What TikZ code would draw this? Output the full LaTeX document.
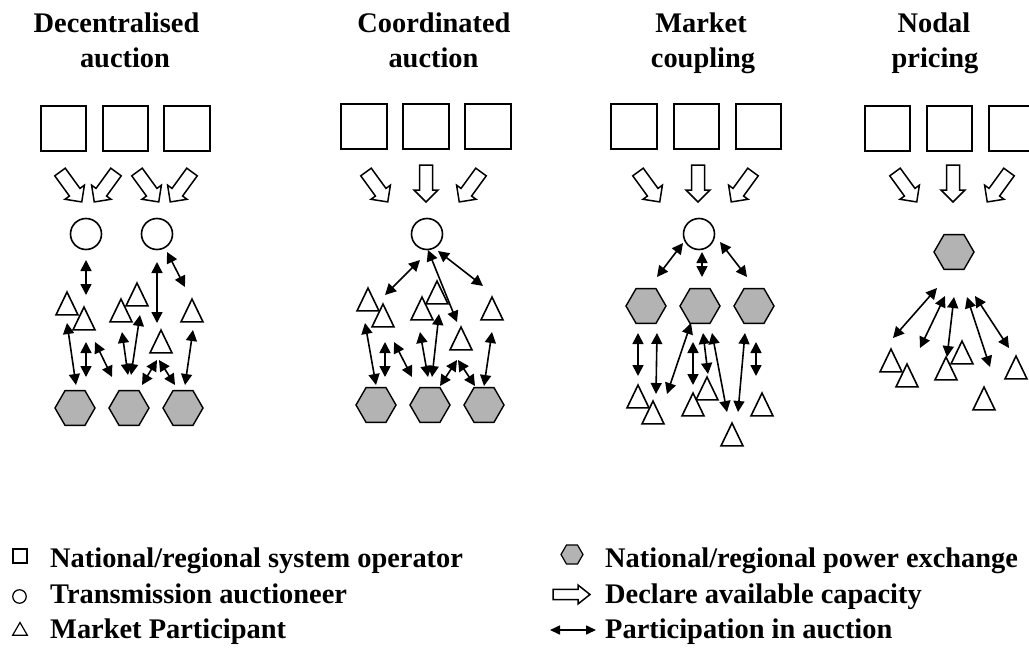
\documentclass[tikz,border=0pt]{standalone}
\usepackage{fontspec}
\setmainfont{Liberation Serif}
\usetikzlibrary{arrows.meta,shapes.geometric}
\definecolor{pxfill}{RGB}{179,179,179}
\tikzset{
  sysop/.style={draw, line width=1.7pt, fill=white, minimum size=45.5pt, inner sep=0pt},
  auct/.style={circle, draw, line width=1.6pt, fill=white, minimum size=31pt, inner sep=0pt},
  pwx/.style={regular polygon, regular polygon sides=6, draw, line width=1.4pt, fill=pxfill, minimum size=40pt, inner sep=0pt},
  mp/.style={regular polygon, regular polygon sides=3, draw, line width=1.6pt, fill=white, minimum size=25.4pt, inner sep=0pt, yscale=1.2},
  part/.style={{Triangle[length=11pt,width=11pt]}-{Triangle[length=11pt,width=11pt]}, line width=1.6pt},
  ttl/.style={font=\fontsize{28.4}{32}\selectfont\bfseries, anchor=base, inner sep=0pt},
  legtext/.style={font=\fontsize{28.4}{32}\selectfont\bfseries, anchor=base west, inner sep=0pt},
  decl/.pic={\draw[line width=1.5pt, fill=white, line join=miter]
    (-6.5,0) -- (-6.5,25) -- (-12,25) -- (0,37) -- (12,25) -- (6.5,25) -- (6.5,0) -- cycle;}
}
\begin{document}
\begin{tikzpicture}[x=1pt,y=-1pt]
\useasboundingbox (0,0) rectangle (1029,648);

% ---------- titles ----------
\node[ttl] (t1a) at (116.5,32) {Decentralised};
\node[ttl] (t1b) at (125,67) {auction};
\node[ttl] (t2a) at (434,32) {Coordinated};
\node[ttl] (t2b) at (433.5,67) {auction};
\node[ttl] (t3a) at (701,32) {Market};
\node[ttl] (t3b) at (703,67) {coupling};
\node[ttl] (t4a) at (934,32) {Nodal};
\node[ttl] (t4b) at (935,67) {pricing};

% ---------- decentralised auction ----------
\node[sysop] (s11) at (63.5,128.5) {};
\node[sysop] (s12) at (125.5,128.5) {};
\node[sysop] (s13) at (187,128.5) {};
\pic[rotate=36] at (60,172) {decl};
\pic[rotate=-36] at (116,172) {decl};
\pic[rotate=36] at (137,172) {decl};
\pic[rotate=-36] at (192,172) {decl};
\node[auct] (c11) at (86,234) {};
\node[auct] (c12) at (157,234) {};
\node[mp] (m11) at (67,307.3) {};
\node[mp] (m12) at (84,322.3) {};
\node[mp] (m14) at (121,314.3) {};
\node[mp] (m13) at (137,298.3) {};
\node[mp] (m15) at (192,314.3) {};
\node[mp] (m16) at (161,345.3) {};
\node[pwx] (h11) at (75,408) {};
\node[pwx] (h12) at (129,408) {};
\node[pwx] (h13) at (183,408) {};
\draw[part] (86,260) coordinate (p1a) -- (86,295) coordinate (p1b);
\draw[part] (157,262) coordinate (p2a) -- (157,323) coordinate (p2b);
\draw[part] (167,252) coordinate (p3a) -- (185,287) coordinate (p3b);
\draw[part] (67,323) coordinate (p4a) -- (76,385) coordinate (p4b);
\draw[part] (86,342) coordinate (p5a) -- (86,377) coordinate (p5b);
\draw[part] (95,342) coordinate (p6a) -- (112,377) coordinate (p6b);
\draw[part] (122,332) coordinate (p7a) -- (128,375) coordinate (p7b);
\draw[part] (140,315) coordinate (p8a) -- (131,375) coordinate (p8b);
\draw[part] (157,360) coordinate (p9a) -- (142,385) coordinate (p9b);
\draw[part] (159,360) coordinate (p10a) -- (175,385) coordinate (p10b);
\draw[part] (193,330) coordinate (p11a) -- (185,385) coordinate (p11b);

% ---------- coordinated auction ----------
\node[sysop] (s21) at (364,126.5) {};
\node[sysop] (s22) at (426,126.5) {};
\node[sysop] (s23) at (488,126.5) {};
\pic[rotate=36] at (366,172) {decl};
\pic at (426,165) {decl};
\pic[rotate=-36] at (481,172) {decl};
\node[auct] (c21) at (427,234) {};
\node[mp] (m21) at (368,303.3) {};
\node[mp] (m22) at (383,319.3) {};
\node[mp] (m24) at (422,312.3) {};
\node[mp] (m23) at (437,296.3) {};
\node[mp] (m25) at (492,312.3) {};
\node[mp] (m26) at (461,342.3) {};
\node[pwx] (h21) at (376,405) {};
\node[pwx] (h22) at (430,405) {};
\node[pwx] (h23) at (484,405) {};
\draw[part] (420,260) coordinate (q1a) -- (385,295) coordinate (q1b);
\draw[part] (428,250) coordinate (q2a) -- (457,322) coordinate (q2b);
\draw[part] (438,251) coordinate (q3a) -- (483,286) coordinate (q3b);
\draw[part] (365,323) coordinate (q4a) -- (376,385) coordinate (q4b);
\draw[part] (385,342) coordinate (q5a) -- (385,377) coordinate (q5b);
\draw[part] (394,342) coordinate (q6a) -- (412,377) coordinate (q6b);
\draw[part] (420,332) coordinate (q7a) -- (428,377) coordinate (q7b);
\draw[part] (439,314) coordinate (q8a) -- (432,377) coordinate (q8b);
\draw[part] (457,360) coordinate (q9a) -- (440,386) coordinate (q9b);
\draw[part] (458,360) coordinate (q10a) -- (475,386) coordinate (q10b);
\draw[part] (492,332) coordinate (q11a) -- (484,386) coordinate (q11b);

% ---------- market coupling ----------
\node[sysop] (s31) at (634,126.5) {};
\node[sysop] (s32) at (696.5,126.5) {};
\node[sysop] (s33) at (758.5,126.5) {};
\pic[rotate=36] at (638,172) {decl};
\pic at (698,165) {decl};
\pic[rotate=-36] at (753,172) {decl};
\node[auct] (c31) at (699,234) {};
\node[pwx] (h31) at (646,306) {};
\node[pwx] (h32) at (700,306) {};
\node[pwx] (h33) at (754,306) {};
\node[mp] (m31) at (638,400.3) {};
\node[mp] (m32) at (653,416.3) {};
\node[mp] (m34) at (707,392.3) {};
\node[mp] (m33) at (693,408.3) {};
\node[mp] (m35) at (762,408.3) {};
\node[mp] (m36) at (732,438.3) {};
\draw[part] (683,243) coordinate (r1a) -- (657,277) coordinate (r1b);
\draw[part] (702,252) coordinate (r2a) -- (702,277) coordinate (r2b);
\draw[part] (720,242) coordinate (r3a) -- (747,277) coordinate (r3b);
\draw[part] (638,333) coordinate (r4a) -- (638,376) coordinate (r4b);
\draw[part] (657,333) coordinate (r5a) -- (656,394) coordinate (r5b);
\draw[part] (691,323) coordinate (r6a) -- (667,394) coordinate (r6b);
\draw[part] (693,342) coordinate (r7a) -- (693,385) coordinate (r7b);
\draw[part] (703,333) coordinate (r8a) -- (708,374) coordinate (r8b);
\draw[part] (712,333) coordinate (r9a) -- (727,412) coordinate (r9b);
\draw[part] (745,333) coordinate (r10a) -- (738,412) coordinate (r10b);
\draw[part] (756,342) coordinate (r11a) -- (756,376) coordinate (r11b);

% ---------- nodal pricing ----------
\node[sysop] (s41) at (887.5,128.5) {};
\node[sysop] (s42) at (949.5,128.5) {};
\node[sysop] (s43) at (1011.5,128.5) {};
\pic[rotate=36] at (895,172) {decl};
\pic at (953,165) {decl};
\pic[rotate=-36] at (1009,172) {decl};
\node[pwx] (h41) at (954,252) {};
\node[mp] (m41) at (891,364.3) {};
\node[mp] (m42) at (907,379.3) {};
\node[mp] (m44) at (962,356.3) {};
\node[mp] (m43) at (946,372.3) {};
\node[mp] (m45) at (1016,371.3) {};
\node[mp] (m46) at (984,402.3) {};
\draw[part] (937,288) coordinate (u1a) -- (893,338) coordinate (u1b);
\draw[part] (945,296) coordinate (u2a) -- (920,348) coordinate (u2b);
\draw[part] (954,297) coordinate (u3a) -- (947,357) coordinate (u3b);
\draw[part] (967,297) coordinate (u4a) -- (990,367) coordinate (u4b);
\draw[part] (975,296) coordinate (u5a) -- (1009,348) coordinate (u5b);

% ---------- legend ----------
\node[draw, line width=1.2pt, minimum size=14pt, inner sep=0pt] (lsq) at (20,556) {};
\node[circle, draw, line width=1.2pt, minimum size=13.5pt, inner sep=0pt] (lci) at (19.5,596.5) {};
\node[regular polygon, regular polygon sides=3, draw, line width=1.2pt, minimum size=17pt, inner sep=0pt] (ltr) at (20,631) {};
\node[regular polygon, regular polygon sides=6, draw, line width=1.2pt, fill=pxfill, minimum size=22pt, inner sep=0pt] (lhx) at (572,554.5) {};
\pic[rotate=90, xscale=0.79] at (553,594.5) {decl};
\coordinate (lda) at (550,630);
\coordinate (ldb) at (596,630);
\draw[{Triangle[length=10pt,width=9pt]}-{Triangle[length=10pt,width=9pt]}, line width=1.6pt] (lda) -- (ldb);

\node[legtext] (l1) at (50,567) {National/regional system operator};
\node[legtext] (l2) at (50,603) {Transmission auctioneer};
\node[legtext] (l3) at (50,638) {Market Participant};
\node[legtext] (l4) at (605,567) {National/regional power exchange};
\node[legtext] (l5) at (605,603) {Declare available capacity};
\node[legtext] (l6) at (605,638) {Participation in auction};
\end{tikzpicture}
\end{document}
